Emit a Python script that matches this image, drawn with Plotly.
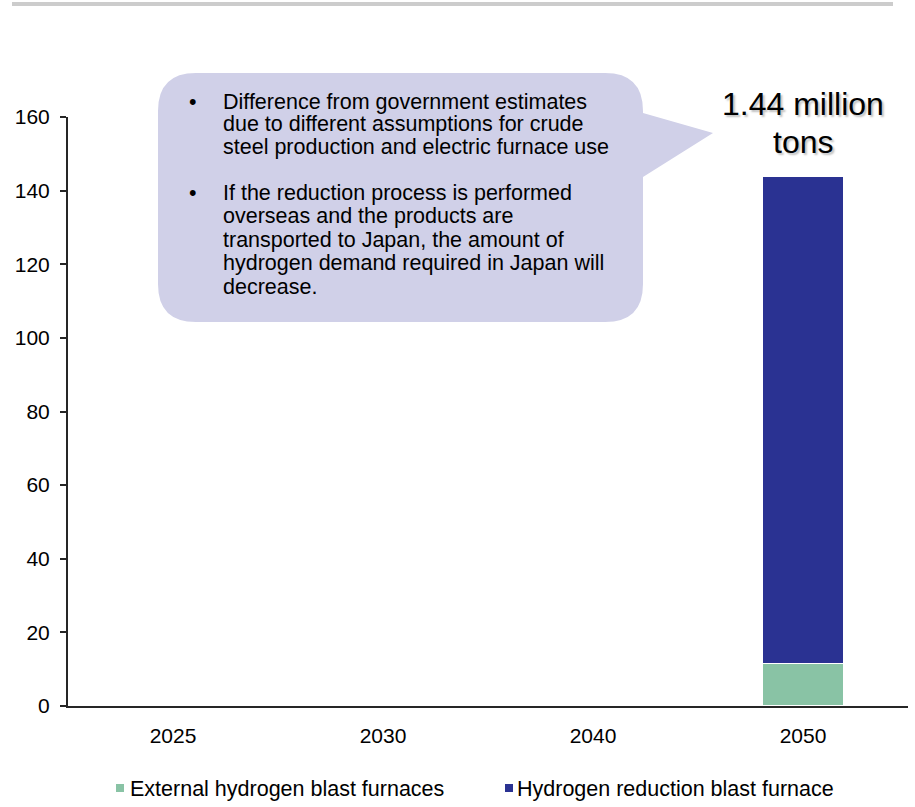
import plotly.graph_objects as go

# ---- data ----
years = ["2025", "2030", "2040", "2050"]
external_h2 = [None, None, None, 11.5]
h2_reduction = [None, None, None, 132.5]
series_names = ["External hydrogen blast furnaces", "Hydrogen reduction blast furnace"]
total_label_lines = ["1.44 million", "tons"]
y_ticks = [0, 20, 40, 60, 80, 100, 120, 140, 160]
note_lines_1 = [
    "Difference from government estimates",
    "due to different assumptions for crude",
    "steel production and electric furnace use",
]
note_lines_2 = [
    "If the reduction process is performed",
    "overseas and the products are",
    "transported to Japan, the amount of",
    "hydrogen demand required in Japan will",
    "decrease.",
]

GREEN = "#89c3a5"
BLUE = "#2a3292"
FONT = "Arial, Liberation Sans, sans-serif"

W, H = 915, 807
L, R, T, B = 68, 908, 117, 706


def px(x):
    return (x - L) / (R - L)


def py(y):
    return (B - y) / (B - T)


fig = go.Figure()
fig.add_trace(go.Bar(x=years, y=external_h2, name=series_names[0],
                     marker=dict(color=GREEN, line=dict(color="white", width=1.5)), width=0.39))
fig.add_trace(go.Bar(x=years, y=h2_reduction, name=series_names[1],
                     marker=dict(color=BLUE, line=dict(color="white", width=1.5)), width=0.39))

shapes = []
# top gray rule
shapes.append(dict(type="rect", xref="paper", yref="paper", x0=px(12), x1=px(893), y0=py(2), y1=py(6),
                   fillcolor="#cccccc", line=dict(width=0), layer="above"))

# callout bubble
r = 38
x0, x1, y0, y1 = 158, 643, 73, 322
pts = [
    ("M", (x0 + r, y0)), ("L", (x1 - r, y0)), ("Q", (x1, y0), (x1, y0 + r)),
    ("L", (x1, 113)), ("L", (713, 133)), ("L", (x1, 177)),
    ("L", (x1, y1 - r)), ("Q", (x1, y1), (x1 - r, y1)),
    ("L", (x0 + r, y1)), ("Q", (x0, y1), (x0, y1 - r)),
    ("L", (x0, y0 + r)), ("Q", (x0, y0), (x0 + r, y0)),
]
path = ""
for p in pts:
    coords = " ".join(f"{px(a):.5f},{py(b):.5f}" for a, b in p[1:])
    path += f"{p[0]}{coords} "
path += "Z"
shapes.append(dict(type="path", xref="paper", yref="paper", path=path, fillcolor="#d0d0e8",
                   line=dict(width=0), layer="above"))

# legend squares
shapes.append(dict(type="rect", xref="paper", yref="paper", x0=px(116), x1=px(124), y0=py(792), y1=py(784),
                   fillcolor=GREEN, line=dict(width=0)))
shapes.append(dict(type="rect", xref="paper", yref="paper", x0=px(505), x1=px(513), y0=py(792), y1=py(784),
                   fillcolor=BLUE, line=dict(width=0)))

ann = []
note_font = dict(family=FONT, size=21.5, color="#000000")
ys1 = [102, 124.5, 147]
ys2 = [192.5, 216, 239.5, 263, 286.5]
for lines, ys in ((note_lines_1, ys1), (note_lines_2, ys2)):
    ann.append(dict(text="•", x=px(187), y=py(ys[0]), xref="paper", yref="paper", xanchor="left",
                    yanchor="middle", showarrow=False, font=note_font))
    for t, yy in zip(lines, ys):
        ann.append(dict(text=t, x=px(221), y=py(yy), xref="paper", yref="paper", xanchor="left",
                        yanchor="middle", showarrow=False, font=note_font))

big_font = dict(family=FONT, size=32, color="#000000", shadow="2px 2px 2px rgba(0,0,0,0.25)")
for t, yy in zip(total_label_lines, [104, 142]):
    ann.append(dict(text=t, x=px(803), y=py(yy), xref="paper", yref="paper", xanchor="center",
                    yanchor="middle", showarrow=False, font=big_font))

leg_font = dict(family=FONT, size=21.5, color="#000000")
ann.append(dict(text=series_names[0], x=px(128), y=py(789), xref="paper", yref="paper", xanchor="left",
                yanchor="middle", showarrow=False, font=leg_font))
ann.append(dict(text=series_names[1], x=px(515), y=py(789), xref="paper", yref="paper", xanchor="left",
                yanchor="middle", showarrow=False, font=leg_font))

fig.update_layout(
    width=W, height=H,
    margin=dict(l=L, r=W - R, t=T, b=H - B, pad=0),
    paper_bgcolor="white", plot_bgcolor="white",
    barmode="stack", showlegend=False,
    shapes=shapes, annotations=ann,
    font=dict(family=FONT, size=21, color="#000000"),
    xaxis=dict(type="category", showline=True, linecolor="#262626", linewidth=2, ticks="",
               showgrid=False, ticklabelstandoff=10, tickfont=dict(size=21, color="#000000")),
    yaxis=dict(range=[0, 160], tickvals=y_ticks, showline=True, linecolor="#262626", linewidth=2,
               ticks="outside", ticklen=6, tickwidth=2, tickcolor="#262626", showgrid=False, zeroline=False,
               ticklabelstandoff=6, tickfont=dict(size=21, color="#000000")),
)

fig.write_html("out.html", config={"displayModeBar": False},
               post_script="document.body.style.margin='0';document.body.style.padding='0';")
